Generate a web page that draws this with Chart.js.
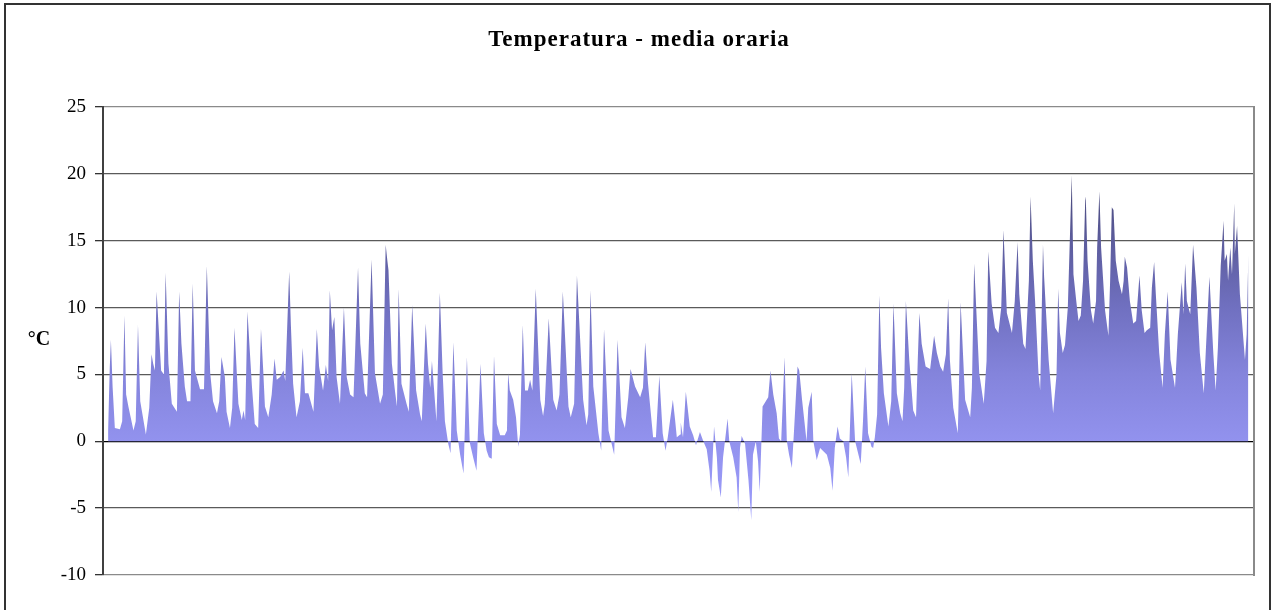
<!DOCTYPE html>
<html lang="it">
<head>
<meta charset="utf-8">
<title>Temperatura - media oraria</title>
<script src="https://cdn.jsdelivr.net/npm/chart.js@4.4.0/dist/chart.umd.min.js"></script>
<style>
  html, body { margin: 0; padding: 0; background: #fff; }
  canvas { display: block; }
</style>
</head>
<body>
<canvas id="grafico" width="1273" height="610"></canvas>
<script>
// === Dati ===
const titolo = "Temperatura - media oraria";
const unita = "°C";
const yMin = -10, yMax = 25, yStep = 5;
const oreTotali = 2040;

// ore dall'inizio del periodo
const ore = [
  9, 12, 14, 17, 21, 30, 34, 38, 41, 45,
  54, 58, 62, 66, 76, 82, 86, 89, 92, 95,
  103, 108, 111, 116, 122, 131, 135, 139, 145, 149,
  155, 159, 163, 172, 179, 184, 190, 195, 202, 206,
  210, 216, 219, 225, 229, 233, 240, 246, 249, 252,
  256, 264, 269, 275, 280, 284, 287, 293, 299, 304,
  308, 314, 320, 323, 330, 333, 337, 343, 349, 354,
  358, 364, 373, 379, 383, 390, 395, 399, 402, 406,
  410, 414, 420, 427, 432, 438, 444, 452, 456, 464,
  468, 476, 482, 491, 496, 501, 504, 506, 512, 518,
  521, 524, 529, 538, 542, 548, 555, 562, 565, 572,
  576, 580, 583, 591, 597, 602, 606, 612, 616, 621,
  627, 633, 639, 645, 650, 656, 662, 669, 675, 680,
  684, 689, 693, 698, 704, 712, 716, 718, 721, 727,
  732, 736, 739, 744, 748, 753, 757, 761, 767, 775,
  780, 783, 790, 798, 804, 809, 815, 825, 829, 835,
  840, 851, 857, 860, 864, 869, 878, 883, 888, 896,
  906, 912, 919, 925, 931, 935, 943, 952, 957, 961,
  966, 975, 980, 986, 992, 997, 1001, 1010, 1014, 1017,
  1023, 1024, 1028, 1033, 1040, 1046, 1051, 1058, 1064, 1070,
  1075, 1078, 1083, 1088, 1090, 1095, 1099, 1107, 1110, 1117,
  1123, 1126, 1129, 1132, 1138, 1144, 1149, 1152, 1157, 1161,
  1164, 1169, 1179, 1183, 1188, 1194, 1198, 1202, 1208, 1212,
  1216, 1221, 1225, 1231, 1234, 1239, 1247, 1250, 1256, 1259,
  1265, 1271, 1283, 1289, 1293, 1297, 1302, 1306, 1312, 1317,
  1321, 1327, 1333, 1336, 1343, 1347, 1351, 1356, 1362, 1365,
  1368, 1372, 1376, 1379, 1384, 1392, 1397, 1401, 1407, 1413,
  1417, 1420, 1423, 1429, 1436, 1441, 1444, 1447, 1451, 1458,
  1466, 1473, 1478, 1484, 1489, 1494, 1498, 1501, 1507, 1515,
  1517, 1520, 1528, 1537, 1540, 1544, 1553, 1561, 1566, 1569,
  1575, 1581, 1587, 1592, 1596, 1602, 1611, 1616, 1621, 1624,
  1631, 1635, 1641, 1644, 1648, 1652, 1658, 1661, 1663, 1666,
  1668, 1676, 1684, 1690, 1693, 1696, 1701, 1705, 1710, 1717,
  1720, 1725, 1729, 1733, 1737, 1741, 1742, 1745, 1751, 1755,
  1760, 1762, 1766, 1769, 1776, 1782, 1785, 1788, 1791, 1795,
  1800, 1806, 1809, 1811, 1815, 1820, 1826, 1831, 1837, 1841,
  1846, 1850, 1856, 1859, 1863, 1866, 1872, 1878, 1882, 1887,
  1892, 1900, 1905, 1912, 1915, 1918, 1921, 1927, 1932, 1938,
  1944, 1951, 1956, 1961, 1968, 1972, 1976, 1981, 1986, 1988,
  1992, 1994, 1998, 2001, 2005, 2006, 2010, 2015, 2024, 2027,
  2030
];

// temperatura media oraria (°C)
const temperature = [
  0.8, 5.5, 7.6, 4.1, 1.0, 0.9, 1.5, 9.4, 3.5, 2.6,
  0.8, 1.5, 8.7, 3.0, 0.5, 2.5, 6.5, 5.8, 5.3, 11.2,
  5.3, 5.0, 12.6, 5.8, 2.8, 2.2, 11.2, 7.3, 4.1, 3.0,
  3.0, 11.8, 5.3, 3.9, 3.9, 13.1, 5.1, 3.0, 2.1, 3.0,
  6.3, 4.8, 2.2, 1.0, 2.5, 8.5, 2.8, 1.6, 2.3, 1.6,
  9.7, 4.1, 1.3, 1.0, 8.4, 5.3, 2.6, 1.8, 3.5, 6.2,
  4.6, 4.8, 5.3, 4.5, 12.7, 8.7, 4.3, 1.8, 3.0, 7.0,
  3.6, 3.6, 2.2, 8.4, 5.6, 3.8, 5.7, 4.5, 11.3, 8.3,
  9.3, 4.8, 2.8, 10.0, 4.8, 3.5, 3.3, 13.0, 7.3, 3.6,
  3.3, 13.6, 5.1, 2.8, 3.5, 14.7, 13.5, 12.8, 5.8, 3.6,
  2.6, 11.4, 4.3, 2.8, 2.2, 10.2, 3.8, 2.0, 1.5, 8.8,
  5.8, 4.0, 6.0, 1.5, 11.1, 5.1, 1.5, -0.2, -0.9, 7.4,
  0.8, -1.0, -2.4, 6.3, -0.1, -1.2, -2.2, 5.8, 0.6, -0.7,
  -1.2, -1.3, 6.4, 1.3, 0.45, 0.45, 0.8, 5.1, 3.8, 3.1,
  1.8, -0.4, 0.5, 8.7, 3.8, 3.8, 4.6, 3.8, 11.4, 3.1,
  1.9, 2.8, 9.2, 3.1, 2.3, 3.5, 11.2, 2.6, 1.8, 2.8,
  12.4, 3.1, 1.2, 2.0, 11.3, 4.1, 0.6, -0.7, 8.4, 0.8,
  -1.0, 7.6, 1.8, 1.0, 3.3, 5.4, 4.1, 3.3, 4.0, 7.4,
  4.3, 0.3, 0.3, 4.9, 0.6, -0.7, 0.3, 3.1, 1.6, 0.3,
  0.5, 1.4, 0.3, 3.7, 1.1, 0.45, -0.3, 0.7, 0.0, -0.6,
  -2.2, -3.8, 1.1, -1.2, -2.9, -4.2, -1.2, 1.7, 0.0, -1.2,
  -2.7, -5.3, -0.5, 0.4, -0.2, -2.9, -5.9, -1.0, 0.0, -1.5,
  -3.8, 2.6, 3.3, 5.3, 3.5, 2.1, 0.2, 0.0, 6.3, 0.0,
  -1.0, -2.0, 1.0, 5.6, 5.3, 3.1, 0.0, 2.5, 3.7, 0.0,
  -1.4, -0.5, -1.0, -2.0, -3.7, -0.5, 1.1, 0.2, 0.0, -1.2,
  -2.7, 5.1, 0.0, -0.5, -1.7, 1.5, 5.6, 0.6, -0.4, -0.5,
  0.3, 2.0, 10.9, 7.0, 3.6, 1.1, 3.0, 10.3, 3.6, 2.1,
  1.5, 4.0, 10.5, 6.1, 2.3, 1.8, 6.0, 9.6, 7.3, 5.6,
  5.4, 7.9, 6.6, 5.6, 5.2, 6.5, 10.7, 6.1, 2.5, 0.6,
  4.0, 10.4, 3.1, 1.8, 4.0, 13.3, 5.1, 2.8, 6.0, 14.2,
  10.3, 8.5, 8.1, 10.0, 15.8, 9.6, 8.1, 10.5, 14.9, 11.0,
  7.3, 6.9, 12.0, 18.3, 13.5, 10.5, 5.1, 3.8, 8.0, 14.7,
  12.3, 6.1, 2.1, 5.0, 11.4, 8.1, 6.6, 7.2, 10.0, 19.9,
  12.5, 10.5, 9.0, 9.4, 12.0, 18.3, 18.0, 13.5, 9.8, 8.8,
  10.5, 14.5, 18.7, 14.5, 9.8, 7.9, 12.0, 17.5, 17.3, 13.5,
  12.0, 11.0, 12.0, 13.8, 13.0, 10.5, 8.8, 9.0, 12.4, 9.8,
  8.1, 8.3, 8.5, 11.5, 13.4, 11.0, 6.6, 4.0, 8.0, 11.2,
  6.1, 4.0, 8.0, 11.9, 9.5, 13.3, 10.5, 9.5, 14.7, 11.5,
  6.6, 3.6, 8.0, 12.3, 6.5, 3.8, 7.0, 13.1, 16.5, 13.5,
  14.0, 12.0, 14.5, 12.5, 17.8, 14.0, 16.1, 11.0, 6.1, 8.0,
  14.0
];

// === Stili ===
const FONT_SERIF = "'Liberation Serif', 'Times New Roman', Times, serif";

// riempimento sfumato: chiaro in basso, scuro verso i valori alti
function sfumatura(context) {
  const chart = context.chart;
  const { ctx, chartArea, scales } = chart;
  if (!chartArea) return "#9494ee";
  const y = scales.y;
  const top = y.getPixelForValue(20);
  const bottom = y.getPixelForValue(-6);
  const g = ctx.createLinearGradient(0, bottom, 0, top);
  g.addColorStop(0, "rgb(156,156,252)");
  g.addColorStop(6 / 26, "rgb(146,146,238)");
  g.addColorStop(11 / 26, "rgb(132,132,220)");
  g.addColorStop(16 / 26, "rgb(112,112,192)");
  g.addColorStop(21 / 26, "rgb(92,92,156)");
  g.addColorStop(1, "rgb(68,68,116)");
  return g;
}

function coloreGriglia(ctx) {
  const v = ctx.tick && ctx.tick.value;
  if (v === 0) return "#000000";
  if (v === yMax || v === yMin) return "#8a8a8a";
  return "#5a5a5a";
}

// cornice esterna, titolo, unita' di misura e bordo destro dell'area
const cornice = {
  id: "cornice",
  beforeDraw(chart) {
    const { ctx, width, height } = chart;
    ctx.save();
    ctx.fillStyle = "#ffffff";
    ctx.fillRect(0, 0, width, height);
    ctx.restore();
  },
  afterDraw(chart) {
    const { ctx, chartArea } = chart;
    ctx.save();
    // bordo destro area del grafico
    ctx.strokeStyle = "#8a8a8a";
    ctx.lineWidth = 2;
    ctx.beginPath();
    ctx.moveTo(chartArea.right, chartArea.top - 1);
    ctx.lineTo(chartArea.right, chartArea.bottom + 1);
    ctx.stroke();

    // cornice
    ctx.strokeStyle = "#333333";
    ctx.lineWidth = 2;
    ctx.strokeRect(5, 4, 1265, 700);

    // titolo
    ctx.fillStyle = "#000000";
    ctx.textAlign = "center";
    ctx.textBaseline = "middle";
    ctx.font = "bold 23px " + FONT_SERIF;
    if ("letterSpacing" in ctx) ctx.letterSpacing = "1px";
    ctx.fillText(titolo, 639, 40);
    if ("letterSpacing" in ctx) ctx.letterSpacing = "0px";

    // unita'
    ctx.font = "bold 20px " + FONT_SERIF;
    ctx.fillText(unita, 39, 340);
    ctx.restore();
  }
};

// === Grafico ===
new Chart(document.getElementById("grafico"), {
  type: "line",
  data: {
    datasets: [{
      label: titolo,
      data: ore.map((h, i) => ({ x: h, y: temperature[i] })),
      fill: "origin",
      backgroundColor: sfumatura,
      borderWidth: 0,
      pointRadius: 0,
      tension: 0
    }]
  },
  options: {
    responsive: false,
    animation: false,
    devicePixelRatio: 1,
    layout: { padding: { top: 107, right: 19, bottom: 35, left: 0 } },
    plugins: {
      legend: { display: false },
      title: { display: false },
      tooltip: { enabled: false }
    },
    scales: {
      x: {
        type: "linear",
        display: false,
        min: 0,
        max: oreTotali
      },
      y: {
        min: yMin,
        max: yMax,
        z: 1,
        afterFit(scale) { scale.width = 103; },
        border: { display: true, color: "#404040", width: 2 },
        grid: {
          color: coloreGriglia,
          lineWidth: 1.3,
          drawTicks: true,
          tickLength: 8,
          tickColor: "#333333"
        },
        ticks: {
          stepSize: yStep,
          padding: 9,
          color: "#000000",
          font: { family: FONT_SERIF, size: 19 }
        }
      }
    }
  },
  plugins: [cornice]
});
</script>
</body>
</html>
